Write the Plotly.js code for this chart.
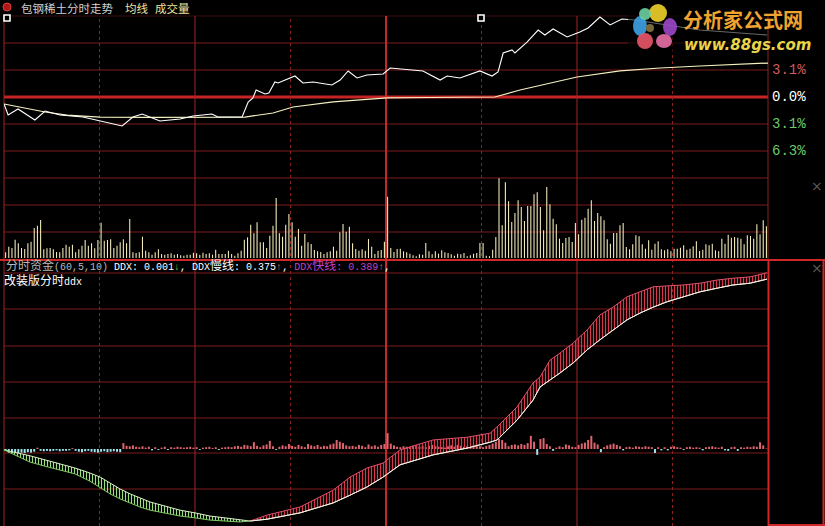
<!DOCTYPE html>
<html><head><meta charset="utf-8">
<script src="https://cdn.plot.ly/plotly-3.0.1.min.js"></script>
<style>html,body{margin:0;padding:0;background:#000;overflow:hidden}#c{width:825px;height:526px}</style>
</head><body><div id="c"></div>
<script>
// ---------- data ----------
const priceMin=[0,1.3,4.4,9.7,12.9,17.6,24.8,30.2,37.1,40.5,43.4,49.0,55.3,59.4,65.3,67.2,74.8,76.7,78.2,79.2,82.0,83.2,85.1,86.1,91.4,93.9,97.1,103.0,105.6,108.1,110.9,114.0,119.1,121.3,124.4,131.6,137.0,139.2,143.2,149.5,153.3,155.2,156.8,159.6,160.5,164.3,167.8,169.9,172.5,176.9,180.9,183.5,187.2,190.4,194.1,198.2,208.3,218.6,231.2,239.7];
const pricePct=[-0.80,-2.07,-1.38,-2.64,-1.61,-2.07,-2.30,-2.76,-3.33,-2.30,-1.95,-2.76,-2.53,-2.18,-1.95,-2.30,-2.30,-0.57,-0.11,0.80,0.34,0.46,1.72,1.61,2.41,1.61,1.72,1.38,1.95,2.99,2.18,2.53,2.64,3.33,3.21,2.99,1.95,2.41,2.18,2.99,2.41,2.87,5.05,5.40,5.05,6.31,7.69,7.12,7.81,6.89,7.46,7.92,9.18,8.27,8.96,8.84,8.27,7.69,7.35,7.12];
const avgMin=[0,12.9,19.8,30.2,45.9,61.6,75.7,84.5,90.8,103.4,120.3,133.8,154.2,162.1,171.5,180.0,193.5,206.1,218.6,240];
const avgPct=[-0.80,-1.72,-2.07,-2.30,-2.35,-2.30,-2.30,-1.84,-1.15,-0.57,-0.11,-0.06,0,0.80,1.61,2.30,2.99,3.33,3.56,3.90];
const volume=[17,34,30,55,44,30,27,44,49,90,
97,114,26,29,30,26,18,17,30,40,
34,40,17,26,37,54,37,44,29,54,
106,52,54,56,30,37,47,56,44,117,
17,15,17,64,22,17,10,17,26,12,10,
12,14,10,12,8,7,10,10,16,14,
10,16,12,14,10,25,12,12,12,22,
12,7,14,22,55,62,100,74,107,47,
47,30,67,97,180,74,64,100,132,107,
64,87,37,72,47,42,24,20,18,12,
17,20,34,22,77,102,79,94,44,27,22,
26,22,57,34,12,22,24,49,184,30,
18,27,
28,20,17,13,8,5,11,10,45,20,
11,20,13,23,17,15,11,7,13,11,
15,5,8,13,15,45,45,7,5,25,
63,239,98,227,170,108,135,173,153,111,
156,156,191,197,153,83,213,161,118,101,
58,45,60,63,48,105,71,115,121,148,
173,111,135,125,113,56,43,75,75,98,
105,33,26,41,68,65,41,28,53,25,
43,50,26,23,26,20,28,28,31,38,
25,28,35,50,21,25,41,38,43,23,
20,58,43,70,61,63,61,58,41,68,
66,58,101,71,113,95];
const ddx=[-0.004,-0.008,-0.009,-0.008,-0.009,-0.008,-0.009,-0.007,-0.008,-0.006,
0.003,-0.004,-0.005,-0.004,-0.005,-0.004,-0.003,-0.005,-0.004,-0.004,
-0.003,0.002,-0.004,-0.006,-0.007,-0.005,-0.004,-0.006,-0.007,-0.008,
-0.006,-0.005,-0.007,-0.006,-0.005,-0.006,-0.007,0.013,0.007,0.006,
0.008,0.005,0.004,0.006,0.003,0.005,-0.003,0.004,-0.002,0.003,
0.005,-0.002,0.004,0.003,0.005,0.004,0.003,0.004,0.005,0.003,
0.004,-0.002,0.003,0.004,0.005,0.002,0.004,-0.002,0.003,0.004,
0.005,0.004,0.006,0.007,0.005,0.009,0.008,0.006,0.015,0.007,
0.004,0.008,0.010,0.018,0.006,-0.002,0.005,0.008,0.006,0.011,
0.007,0.005,0.009,0.006,0.004,0.011,0.008,0.006,0.009,0.005,
0.007,0.006,0.010,0.012,0.020,0.016,0.013,0.008,0.006,0.007,
0.005,0.009,0.007,0.004,0.010,0.006,0.008,0.005,0.009,0.011,
0.035,0.012,0.008,0.005,0.004,0.006,0.005,0.004,0.007,0.008,
0.005,0.006,0.004,0.007,0.009,0.006,0.005,0.004,0.003,0.006,
0.008,0.005,0.009,0.007,0.005,0.006,0.004,0.008,0.010,0.006,
0.004,0.007,0.009,0.012,0.016,0.022,0.020,0.014,0.006,0.009,
0.010,0.008,0.011,0.009,0.013,0.029,0.016,-0.013,0.022,0.024,
0.011,0.006,-0.004,0.003,0.006,0.004,0.010,0.008,0.005,0.004,
0.009,0.012,0.014,0.020,0.029,0.014,0.010,-0.007,0.004,0.008,
0.010,0.012,0.009,0.006,-0.003,0.004,0.005,0.003,0.006,0.005,
0.004,0.006,0.005,0.004,-0.009,0.004,-0.003,0.004,-0.003,0.005,
0.006,0.004,0.003,-0.002,0.004,0.005,0.003,0.004,0.003,-0.003,
0.004,0.005,0.006,0.004,0.003,0.005,-0.003,-0.004,0.004,0.005,
-0.004,0.004,0.003,0.005,0.004,0.006,0.005,0.015,0.008,0.001];
const lineMin=[0,3.5,8.2,12.9,17.6,22.3,27.0,30.2,33.3,36.4,39.6,42.7,45.9,50.6,55.3,60.0,64.7,69.4,74.1,77.3,80.4,82.6,93.0,103.4,108.7,114.0,119.1,124.4,134.8,145.5,152.7,154.9,161.2,166.2,168.4,171.5,174.7,178.8,183.2,187.2,191.3,195.7,199.8,203.9,208.3,213.3,218.7,224.0,229.0,234.4,239.7];
const ddxSlow=[-0.002,-0.007,-0.015,-0.024,-0.033,-0.042,-0.053,-0.062,-0.075,-0.088,-0.099,-0.108,-0.117,-0.126,-0.135,-0.141,-0.148,-0.152,-0.157,-0.159,-0.157,-0.155,-0.141,-0.119,-0.102,-0.084,-0.062,-0.035,-0.013,0.002,0.015,0.020,0.064,0.108,0.137,0.152,0.168,0.190,0.219,0.241,0.263,0.285,0.300,0.313,0.325,0.336,0.347,0.355,0.362,0.366,0.375];
const ddxFast=[-0.002,-0.013,-0.029,-0.038,-0.046,-0.055,-0.071,-0.086,-0.099,-0.110,-0.119,-0.128,-0.135,-0.141,-0.148,-0.152,-0.157,-0.159,-0.161,-0.159,-0.152,-0.146,-0.128,-0.091,-0.062,-0.042,-0.031,-0.002,0.020,0.026,0.035,0.049,0.093,0.146,0.159,0.196,0.212,0.234,0.263,0.296,0.313,0.336,0.347,0.358,0.360,0.362,0.366,0.373,0.377,0.380,0.389];
const pctTickVals=[3.1,0,-3.1,-6.2];
const pctTickText=['3.1%','0.0%','3.1%','6.3%'];
const pctTickColors=['#d05a5a','#ffffff','#6cc86c','#6cc86c'];

// ---------- helpers ----------
const W=825,H=526;
const px=x=>x/W, py=y=>1-y/H;
const FONT='"Noto Sans CJK SC", "Noto Sans", sans-serif';
const MONO='"Liberation Mono", "Noto Sans CJK SC", monospace';
const idx=volume.map((v,i)=>i+0.5);

let cross=1; while(cross<lineMin.length && ddxFast[cross]<ddxSlow[cross]) cross++;

const traces=[
 {type:'bar',x:idx,y:volume,width:0.34,marker:{color:'#f2eab8',line:{width:0}},xaxis:'x',yaxis:'y2',hoverinfo:'skip'},
 {type:'scatter',mode:'lines',x:avgMin,y:avgPct,line:{color:'#f4f0c0',width:1.2},xaxis:'x',yaxis:'y'},
 {type:'scatter',mode:'lines',x:priceMin,y:pricePct,line:{color:'#ffffff',width:1.1},xaxis:'x',yaxis:'y'},
 {type:'scatter',mode:'lines',x:lineMin.slice(0,cross+1),y:ddxSlow.slice(0,cross+1),line:{color:'#d8f0c8',width:1},xaxis:'x',yaxis:'y3'},
 {type:'scatter',mode:'lines',x:lineMin.slice(0,cross+1),y:ddxFast.slice(0,cross+1),line:{color:'#7cc860',width:1},fill:'tonexty',fillcolor:'rgba(0,0,0,0)',
  fillpattern:{shape:'|',size:3,solidity:0.38,fgcolor:'#9be07e',bgcolor:'rgba(0,0,0,0)'},xaxis:'x',yaxis:'y3'},
 {type:'scatter',mode:'lines',x:lineMin.slice(cross),y:ddxSlow.slice(cross),line:{color:'#f4f0e0',width:1},xaxis:'x',yaxis:'y3'},
 {type:'scatter',mode:'lines',x:lineMin.slice(cross),y:ddxFast.slice(cross),line:{color:'#e0506a',width:1},fill:'tonexty',fillcolor:'rgba(0,0,0,0)',
  fillpattern:{shape:'|',size:3,solidity:0.4,fgcolor:'#d8384e',bgcolor:'rgba(0,0,0,0)'},xaxis:'x',yaxis:'y3'},
 {type:'scatter',mode:'lines',x:lineMin.slice(cross),y:ddxSlow.slice(cross),line:{color:'#f4f0e0',width:1},xaxis:'x',yaxis:'y3'},
 {type:'bar',x:idx,y:ddx,width:0.62,marker:{color:ddx.map(v=>v>=0?'#e0646e':'#9fe4ee'),line:{width:0}},xaxis:'x',yaxis:'y3'}
];

const shapes=[];
const G='#7c1c1c';
function hl(y,x0,x1,c,w,dash){shapes.push({type:'line',xref:'paper',yref:'paper',x0:px(x0),x1:px(x1),y0:py(y),y1:py(y),line:{color:c,width:w,dash:dash||'solid'},layer:'below'});}
function vl(x,y0,y1,c,w,dash,layer){shapes.push({type:'line',xref:'paper',yref:'paper',x0:px(x),x1:px(x),y0:py(y0),y1:py(y1),line:{color:c,width:w,dash:dash||'solid'},layer:layer||'below'});}
[43,70,124,151,178,205,232].forEach(y=>hl(y,4,768,G,1));
hl(16,4,768,'#3a0c0c',1);
hl(97,4,768,'#c42424',3);
[273,309,346,382,418,453,489].forEach(y=>hl(y,4,768,G,1));
for(let k=1;k<8;k++){
 const dash=(k%2===1)?'dot':'solid';
 const c=k===4?'#c42828':(k%2===1?'#8a2222':'#a02424');
 shapes.push({type:'line',xref:'x',yref:'paper',x0:30*k,x1:30*k,y0:py(526),y1:py(16),line:{color:c,width:k===4?2:1,dash:dash},layer:'below'});
}
vl(4,16,526,'#a02424',1);
vl(768,16,260,'#8a2222',1);
hl(260,0,825,'#d02828',2);
vl(768.5,260,526,'#d02828',2,'solid','above');
vl(823.5,260,526,'#d02828',2,'solid','above');
hl(525,768,825,'#d02828',2);
shapes.push({type:'circle',xref:'paper',yref:'paper',x0:px(3),x1:px(11),y0:py(11),y1:py(3),fillcolor:'#b01818',line:{color:'#e04040',width:1}});
[[7,18],[481,18]].forEach(([x,y])=>shapes.push({type:'rect',xref:'paper',yref:'paper',x0:px(x-3),x1:px(x+3),y0:py(y+3),y1:py(y-3),fillcolor:'#000',line:{color:'#ffffff',width:1.6}}));
shapes.push({type:'rect',xref:'paper',yref:'paper',x0:px(628),x1:px(767),y0:py(55),y1:py(1),fillcolor:'rgba(0,0,0,0.6)',line:{width:0},layer:'above'});
[[640,26,7,10,'#3da2e6'],[658,13,9,9,'#f0d22a'],[670,27,7,9,'#9a48c8'],[664,41,8,7,'#e870a8'],[645,41,8,8,'#ea5668'],[645,14,6,6,'#6ad0a0']].forEach(([cx,cy,rx,ry,c])=>
 shapes.push({type:'circle',xref:'paper',yref:'paper',x0:px(cx-rx),x1:px(cx+rx),y0:py(cy+ry),y1:py(cy-ry),fillcolor:c,line:{width:0},opacity:0.9}));
shapes.push({type:'circle',xref:'paper',yref:'paper',x0:px(646),x1:px(654),y0:py(32),y1:py(24),fillcolor:'#7a6a3a',line:{width:0}});

const ann=[];
function t(text,x,y,color,size,family,anchor){ann.push({text:text,xref:'paper',yref:'paper',x:px(x),y:py(y),xanchor:anchor||'left',yanchor:'middle',showarrow:false,font:{color:color,size:size||12,family:family||FONT}});}
t('包钢稀土分时走势',19,8,'#cfcfcf',11.5);
t('均线',123,8,'#ece4a4',11.5);
t('成交量',153,8,'#ece4a4',11.5);
pctTickVals.forEach((v,i)=>ann.push({text:pctTickText[i],xref:'paper',yref:'y',x:px(770),y:v,xanchor:'left',yanchor:'middle',showarrow:false,font:{color:pctTickColors[i],size:14,family:'"Liberation Mono", monospace'}}));
const cj=s=>'<span style="font-size:12px">'+s+'</span>';
t('<span style="color:#b8b8b8">'+cj('分时资金')+'(60,5,10)</span> DDX: 0.001<span style="color:#50d050">↓</span>, DDX'+cj('慢线')+': 0.375<span style="color:#e07070">↑</span>, <span style="color:#c040c8">DDX'+cj('快线')+': 0.389</span><span style="color:#e07070">↑</span>,',4,266,'#ffffff',10,MONO);
t(cj('改装版分时')+'ddx',2,281,'#ffffff',10,MONO);
t('×',817,186,'#5a5a5a',14,'DejaVu Sans','center');
t('×',817,268,'#5a5a5a',14,'DejaVu Sans','center');
t('<b>分析家公式网</b>',681,19,'#f0a430',20);
t('<b><i>www.88gs.com</i></b>',682,45,'#e8d44a',15,'"DejaVu Sans", sans-serif');

const ax={visible:false,fixedrange:true,showgrid:false,zeroline:false};
const layout={
 width:W,height:H,margin:{l:0,r:0,t:0,b:0},paper_bgcolor:'#000',plot_bgcolor:'rgba(0,0,0,0)',
 showlegend:false,barmode:'overlay',
 xaxis:Object.assign({},ax,{domain:[px(4),px(768)],range:[0,240],anchor:'y'}),
 yaxis:Object.assign({},ax,{domain:[py(178),py(16)],range:[-9.3,9.3],anchor:'x'}),
 yaxis2:Object.assign({},ax,{domain:[py(258),py(178)],range:[0,240],anchor:'x'}),
 yaxis3:Object.assign({},ax,{domain:[py(525),py(260)],range:[(449-525)/453,(449-260)/453],anchor:'x'}),
 shapes:shapes,annotations:ann
};
Plotly.newPlot('c',traces,layout,{staticPlot:true,displayModeBar:false});
</script></body></html>
